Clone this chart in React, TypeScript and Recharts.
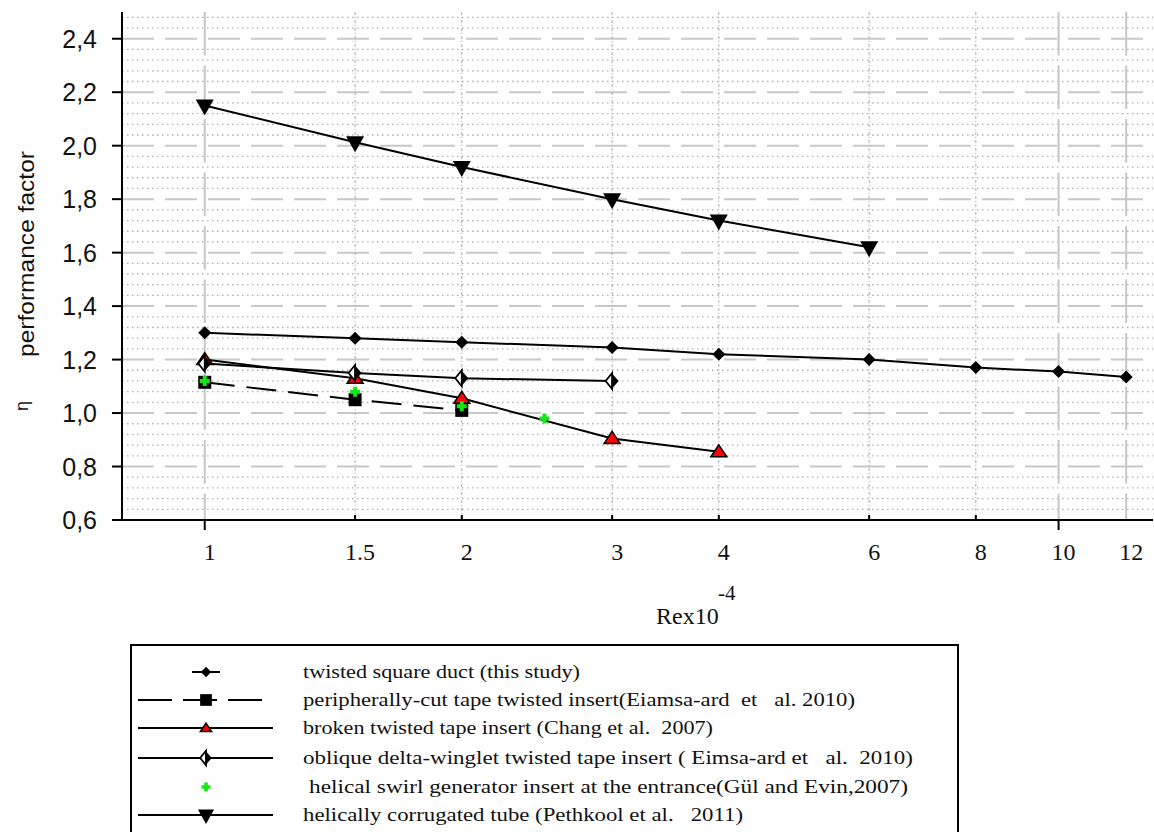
import React from 'react';
import { ComposedChart, Line, XAxis, YAxis, CartesianGrid, Legend } from 'recharts';

// Axis ticks: Re x 10^-4 (log axis) and performance factor η
const reTicks = [1, 1.5, 2, 3, 4, 6, 8, 10, 12];
const etaTicks = [0.6, 0.8, 1.0, 1.2, 1.4, 1.6, 1.8, 2.0, 2.2, 2.4];

// twisted square duct (this study)
const squareDuctRe = [1, 1.5, 2, 3, 4, 6, 8, 10, 12];
const squareDuctEta = [1.3, 1.28, 1.265, 1.245, 1.22, 1.2, 1.17, 1.155, 1.135];

// peripherally-cut tape twisted insert
const peripheralRe = [1, 1.5, 2];
const peripheralEta = [1.115, 1.05, 1.01];

// broken twisted tape insert
const brokenRe = [1, 1.5, 2, 3, 4];
const brokenEta = [1.2, 1.13, 1.055, 0.905, 0.855];

// oblique delta-winglet twisted tape insert
const obliqueRe = [1, 1.5, 2, 3];
const obliqueEta = [1.185, 1.15, 1.13, 1.12];

// helical swirl generator insert at the entrance
const swirlRe = [1, 1.5, 2, 2.5];
const swirlEta = [1.12, 1.08, 1.025, 0.98];

// helically corrugated tube
const corrugatedRe = [1, 1.5, 2, 3, 4, 6];
const corrugatedEta = [2.15, 2.013, 1.92, 1.8, 1.72, 1.62];

const legendLabels = [
  'twisted square duct (this study)',
  'peripherally-cut tape twisted insert(Eiamsa-ard  et   al. 2010)',
  'broken twisted tape insert (Chang et al.  2007)',
  'oblique delta-winglet twisted tape insert ( Eimsa-ard et   al.  2010)',
  ' helical swirl generator insert at the entrance(Gül and Evin,2007)',
  'helically corrugated tube (Pethkool et al.   2011)',
];

type Kind = 'diamond' | 'square' | 'triangle' | 'halfDiamond' | 'plus' | 'invTriangle';

const toPoints = (re: number[], eta: number[]) => re.map((r, i) => ({ re: r, eta: eta[i] }));

// minor horizontal grid every 0.04 between the major 0.2 lines
const minorEta: number[] = [];
for (let i = 16; i <= 62; i++) {
  if (i % 5 !== 0) minorEta.push(Math.round(i * 4) / 100);
}

const SERIF = "'Liberation Serif', 'Times New Roman', serif";
const SANS = "'Liberation Sans', Arial, sans-serif";

function Marker({ kind, cx, cy, s = 1 }: { kind: Kind; cx: number; cy: number; s?: number }) {
  switch (kind) {
    case 'diamond':
      return (
        <polygon
          points={`${cx},${cy - 6.5 * s} ${cx + 6.5 * s},${cy} ${cx},${cy + 6.5 * s} ${cx - 6.5 * s},${cy}`}
          fill="#000"
        />
      );
    case 'square':
      return <rect x={cx - 6.5 * s} y={cy - 6.5 * s} width={13 * s} height={13 * s} fill="#000" />;
    case 'triangle':
      return (
        <polygon
          points={`${cx},${cy - 7 * s} ${cx + 8 * s},${cy + 5 * s} ${cx - 8 * s},${cy + 5 * s}`}
          fill="#ff0000"
          stroke="#000"
          strokeWidth={1.5}
        />
      );
    case 'halfDiamond':
      return (
        <g>
          <polygon
            points={`${cx},${cy - 8 * s} ${cx},${cy + 8 * s} ${cx - 6.5 * s},${cy}`}
            fill="#fff"
            stroke="#000"
            strokeWidth={1.8}
          />
          <polygon points={`${cx - 0.5},${cy - 8 * s} ${cx + 6.5 * s},${cy} ${cx - 0.5},${cy + 8 * s}`} fill="#000" />
        </g>
      );
    case 'plus': {
      const a = 5 * s;
      const t = 2 * s;
      return (
        <path
          d={`M${cx - t},${cy - a} H${cx + t} V${cy - t} H${cx + a} V${cy + t} H${cx + t} V${cy + a} H${cx - t} V${cy + t} H${cx - a} V${cy - t} H${cx - t} Z`}
          fill="#14e614"
        />
      );
    }
    case 'invTriangle':
      return (
        <polygon
          points={`${cx - 9 * s},${cy - 6 * s} ${cx + 9 * s},${cy - 6 * s} ${cx},${cy + 10 * s}`}
          fill="#000"
        />
      );
  }
  return null;
}

const dotFor = (kind: Kind) => (props: any) => {
  const { cx, cy, index } = props;
  if (cx == null || cy == null) return <g key={`e-${index}`} />;
  return (
    <g key={`${kind}-${index}`}>
      <Marker kind={kind} cx={cx} cy={cy} />
    </g>
  );
};

const ReTick = (props: any) => {
  const { x, y, payload } = props;
  const v = payload.value as number;
  const major = v === 1 || v === 10;
  return (
    <g>
      {major ? (
        <line x1={x} x2={x} y1={y} y2={y + 10} stroke="#000" strokeWidth={2} />
      ) : v !== 12 ? (
        <line x1={x} x2={x} y1={y} y2={y - 5} stroke="#000" strokeWidth={2} />
      ) : null}
      <text x={x + 5} y={y + 40} textAnchor="middle" fontFamily={SERIF} fontSize={24} fill="#111">
        {String(v)}
      </text>
    </g>
  );
};

const TopTick = (props: any) => {
  const { x, y, payload } = props;
  const v = payload.value as number;
  if (v === 1 || v === 10 || v === 12) return <g />;
  return <line x1={x} x2={x} y1={y} y2={y + 4} stroke="#000" strokeWidth={2} />;
};

const EtaTick = (props: any) => {
  const { x, y, payload } = props;
  const v = payload.value as number;
  return (
    <g>
      <line x1={x - 10} x2={x} y1={y} y2={y} stroke="#000" strokeWidth={2} />
      <text x={x - 25} y={y + 9} textAnchor="end" fontFamily={SANS} fontSize={25} fill="#111">
        {v.toFixed(1).replace('.', ',')}
      </text>
    </g>
  );
};

const XLabel = () => (
  <g>
    <text x={656} y={624} fontFamily={SERIF} fontSize={24} fill="#111">
      Rex10
    </text>
    <text x={718} y={600} fontFamily={SERIF} fontSize={21} fill="#111">
      -4
    </text>
  </g>
);

const YLabel = () => (
  <g>
    <text
      x={26}
      y={254}
      transform="rotate(-90, 26, 254)"
      textAnchor="middle"
      dominantBaseline="central"
      fontFamily={SANS}
      fontSize={22}
      fill="#111"
      textLength={206}
      lengthAdjust="spacingAndGlyphs"
    >
      performance factor
    </text>
    <text
      x={22}
      y={406}
      transform="rotate(-90, 22, 406)"
      textAnchor="middle"
      dominantBaseline="central"
      fontFamily={SANS}
      fontSize={18}
      fill="#111"
    >
      η
    </text>
  </g>
);

const legendKinds: Kind[] = ['diamond', 'square', 'triangle', 'halfDiamond', 'plus', 'invTriangle'];
const legendRowY = [28, 56, 84, 114, 143, 171];
const legendTextWidth = [277, 552, 410, 610, 599, 440];

const LegendBox = () => (
  <svg width={830} height={188} style={{ display: 'block' }}>
    <rect x={1} y={1} width={827} height={260} fill="#fff" stroke="#000" strokeWidth={2} />
    {legendKinds.map((kind, i) => {
      const cy = legendRowY[i];
      let sample: React.ReactNode = null;
      if (i === 0) sample = <line x1={62} x2={90} y1={cy} y2={cy} stroke="#000" strokeWidth={2} />;
      else if (i === 1)
        sample = (
          <line x1={8} x2={133} y1={cy} y2={cy} stroke="#000" strokeWidth={2} strokeDasharray="34 11" />
        );
      else if (i !== 4) sample = <line x1={8} x2={143} y1={cy} y2={cy} stroke="#000" strokeWidth={2} />;
      return (
        <g key={kind}>
          {sample}
          <Marker kind={kind} cx={76} cy={cy} s={kind === 'diamond' ? 0.8 : kind === 'triangle' ? 0.7 : 0.9} />
          <text
            x={i === 4 ? 179 : 173}
            y={cy + 6}
            fontFamily={SERIF}
            fontSize={18}
            fill="#111"
            textLength={legendTextWidth[i]}
            lengthAdjust="spacingAndGlyphs"
            style={{ whiteSpace: 'pre' }}
          >
            {legendLabels[i].trim()}
          </text>
        </g>
      );
    })}
  </svg>
);

export default function App() {
  return (
    <div style={{ position: 'absolute', left: 0, top: 0, width: 1154, height: 832, background: '#fff' }}>
      <ComposedChart width={1154} height={832} margin={{ top: 12, right: 1, bottom: 282, left: 62 }}>
        {/* minor dotted rows */}
        <CartesianGrid
          vertical={false}
          horizontalValues={minorEta}
          stroke="#b0b0b0"
          strokeWidth={1.3}
          strokeDasharray="1.5 3.5"
        />
        {/* dashed major rows */}
        <CartesianGrid
          vertical={false}
          horizontalValues={etaTicks}
          stroke="#c8c8c8"
          strokeWidth={2}
          strokeDasharray="32 11"
        />
        {/* light dash-dot verticals at intermediate ticks */}
        <CartesianGrid
          horizontal={false}
          verticalValues={[1.5, 2, 3, 4, 6, 8]}
          stroke="#a8a8a8"
          strokeWidth={1}
          strokeDasharray="3 2 1 2"
        />
        {/* decade verticals */}
        <CartesianGrid
          horizontal={false}
          verticalValues={[1, 10, 12]}
          stroke="#c6c6c6"
          strokeWidth={2}
          strokeDasharray="43.5 10"
        />
        <XAxis
          xAxisId={0}
          dataKey="re"
          type="number"
          scale="log"
          domain={[0.8, 12.9]}
          allowDataOverflow
          ticks={reTicks}
          interval={0}
          height={30}
          tickSize={0}
          tickMargin={0}
          tickLine={false}
          axisLine={{ stroke: '#000', strokeWidth: 2 }}
          tick={<ReTick />}
          label={<XLabel />}
        />
        <XAxis
          xAxisId="top"
          orientation="top"
          dataKey="re"
          type="number"
          scale="log"
          domain={[0.8, 12.9]}
          allowDataOverflow
          ticks={reTicks}
          interval={0}
          height={0}
          tickSize={0}
          tickMargin={0}
          tickLine={false}
          axisLine={{ stroke: '#000', strokeWidth: 2 }}
          tick={<TopTick />}
        />
        <YAxis
          yAxisId={0}
          type="number"
          domain={[0.6, 2.5]}
          allowDataOverflow
          ticks={etaTicks}
          interval={0}
          width={60}
          tickSize={0}
          tickMargin={0}
          tickLine={false}
          axisLine={{ stroke: '#000', strokeWidth: 2 }}
          tick={<EtaTick />}
          label={<YLabel />}
        />
        <YAxis
          yAxisId="right"
          orientation="right"
          type="number"
          domain={[0.6, 2.5]}
          width={0}
          tick={false}
          tickLine={false}
          axisLine={{ stroke: '#8a8a8a', strokeWidth: 1 }}
        />
        <Line
          data={toPoints(peripheralRe, peripheralEta)}
          dataKey="eta"
          stroke="#000"
          strokeWidth={2}
          strokeDasharray="30 12"
          dot={dotFor('square')}
          activeDot={false}
          isAnimationActive={false}
        />
        <Line
          data={toPoints(brokenRe, brokenEta)}
          dataKey="eta"
          stroke="#000"
          strokeWidth={2}
          dot={dotFor('triangle')}
          activeDot={false}
          isAnimationActive={false}
        />
        <Line
          data={toPoints(obliqueRe, obliqueEta)}
          dataKey="eta"
          stroke="#000"
          strokeWidth={2}
          dot={dotFor('halfDiamond')}
          activeDot={false}
          isAnimationActive={false}
        />
        <Line
          data={toPoints(swirlRe, swirlEta)}
          dataKey="eta"
          stroke="none"
          strokeWidth={0}
          dot={dotFor('plus')}
          activeDot={false}
          isAnimationActive={false}
        />
        <Line
          data={toPoints(squareDuctRe, squareDuctEta)}
          dataKey="eta"
          stroke="#000"
          strokeWidth={2}
          dot={dotFor('diamond')}
          activeDot={false}
          isAnimationActive={false}
        />
        <Line
          data={toPoints(corrugatedRe, corrugatedEta)}
          dataKey="eta"
          stroke="#000"
          strokeWidth={2}
          dot={dotFor('invTriangle')}
          activeDot={false}
          isAnimationActive={false}
        />
        <Legend
          layout="vertical"
          align="center"
          verticalAlign="middle"
          wrapperStyle={{ position: 'absolute', left: 130, top: 644, width: 830, height: 188 }}
          content={() => <LegendBox />}
        />
      </ComposedChart>
    </div>
  );
}
